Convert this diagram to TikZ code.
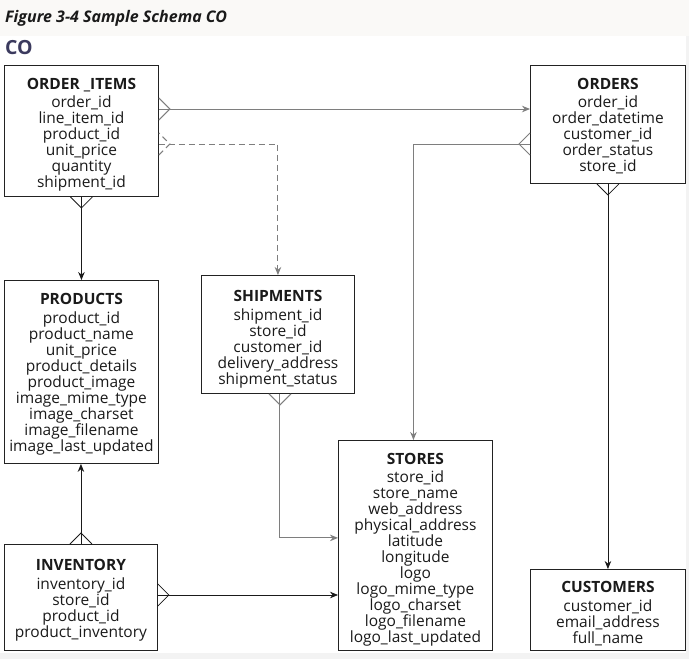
\documentclass[tikz,border=0pt]{standalone}
\usepackage{fontspec}
\setmainfont{Open Sans}
\usetikzlibrary{calc,arrows.meta}
\definecolor{cotitle}{HTML}{3B3A5E}
\definecolor{conngray}{HTML}{7E7E7E}
\definecolor{boxline}{HTML}{222222}
\definecolor{bandbg}{HTML}{FAF9F7}
\definecolor{edgebg}{HTML}{F3F3F3}
\definecolor{txt}{HTML}{1A1A1A}
\newcommand{\crowfoot}[3]{\draw[#1] ($(#2)+(#3+90:11)$) -- ($(#2)+(#3:11)$) -- ($(#2)+(#3-90:11)$);}
\begin{document}
\begin{tikzpicture}[x=1pt,y=-1pt,
  tbox/.style={draw=boxline, line width=0.9pt, anchor=north west, inner sep=0pt, fill=white},
  ttext/.style={anchor=north, align=center, inner sep=0pt, font=\fontsize{15.5}{16}\selectfont, text=txt},
  conn/.style={line width=0.8pt, draw=txt},
  conng/.style={line width=1pt, draw=conngray},
  arr/.style={-{Stealth[length=8pt,width=6.5pt]}},
  dsh/.style={dash pattern=on 6pt off 4pt}
]
\fill[edgebg] (0,0) rectangle (689,659);
\fill[bandbg] (0,0) rectangle (689,36);
\fill[white] (0,36) rectangle (686,653);
\useasboundingbox (0,0) rectangle (689,659);

\node[anchor=west, inner sep=0pt, font=\bfseries\itshape\fontsize{16}{17}\selectfont, text=txt] (fig) at (5,18) {Figure 3-4 Sample Schema CO};
\node[anchor=west, inner sep=0pt, font=\bfseries\fontsize{19.5}{20}\selectfont, text=cotitle] (co) at (5,48) {CO};

% boxes
\node[tbox, minimum width=154pt, minimum height=131pt] (oi) at (4,65) {};
\node[tbox, minimum width=155pt, minimum height=118pt] (ord) at (530,65) {};
\node[tbox, minimum width=154pt, minimum height=183pt] (prod) at (4,280) {};
\node[tbox, minimum width=153pt, minimum height=118pt] (ship) at (201,275) {};
\node[tbox, minimum width=154pt, minimum height=210pt] (st) at (338,440) {};
\node[tbox, minimum width=153pt, minimum height=106pt] (inv) at (4,544) {};
\node[tbox, minimum width=155pt, minimum height=81pt] (cust) at (530,569) {};

% texts
\node[ttext] (oi-t) at ($(oi.north)+(0,13.3)$) {\textbf{ORDER \_ITEMS}\\[2pt]order\_id\\line\_item\_id\\product\_id\\unit\_price\\quantity\\shipment\_id};
\node[ttext] (ord-t) at ($(ord.north)+(0,13.3)$) {\textbf{ORDERS}\\[2pt]order\_id\\order\_datetime\\customer\_id\\order\_status\\store\_id};
\node[ttext] (prod-t) at ($(prod.north)+(0,13.3)$) {\textbf{PRODUCTS}\\[3pt]product\_id\\product\_name\\unit\_price\\product\_details\\product\_image\\image\_mime\_type\\image\_charset\\image\_filename\\image\_last\_updated};
\node[ttext] (ship-t) at ($(ship.north)+(0,15.3)$) {\textbf{SHIPMENTS}\\[3pt]shipment\_id\\store\_id\\customer\_id\\delivery\_address\\shipment\_status};
\node[ttext] (st-t) at ($(st.north)+(0,13.3)$) {\textbf{STORES}\\[2pt]store\_id\\store\_name\\web\_address\\physical\_address\\latitude\\longitude\\logo\\logo\_mime\_type\\logo\_charset\\logo\_filename\\logo\_last\_updated};
\node[ttext] (inv-t) at ($(inv.north)+(0,15.3)$) {\textbf{INVENTORY}\\[3pt]inventory\_id\\store\_id\\product\_id\\product\_inventory};
\node[ttext] (cust-t) at ($(cust.north)+(0,12.3)$) {\textbf{CUSTOMERS}\\[3pt]customer\_id\\email\_address\\full\_name};

% attachment points
\coordinate (oiA) at ($(oi.north east)+(0,44)$);
\coordinate (oiB) at ($(oi.north east)+(0,79)$);
\coordinate (oiBc) at ($(ship.north)+(0,-131)$);
\coordinate (ordB) at ($(ord.north west)+(0,79)$);
\coordinate (ordBc) at ($(st.north)+(-2,-296)$);
\coordinate (stN) at ($(st.north)+(-2,0)$);
\coordinate (shipS) at ($(ship.south)+(2,0)$);
\coordinate (shipSc) at ($(ship.south)+(2,144)$);
\coordinate (invE) at ($(inv.north east)+(0,51)$);
\coordinate (stW) at ($(st.north west)+(0,155)$);

% connectors
\draw[conng, arr] (oiA) -- (oiA -| ord.west);
\crowfoot{conng}{oiA}{0}
\draw[conng, dsh, arr] (oiB) -- (oiBc) -- (ship.north);
\crowfoot{conng, dsh}{oiB}{0}
\draw[conn, arr] (oi.south) -- (oi.south |- prod.north);
\crowfoot{conn}{oi.south}{90}
\draw[conng, arr] (ordB) -- (ordBc) -- (stN);
\crowfoot{conng}{ordB}{180}
\draw[conn, arr] (ord.south) -- (ord.south |- cust.north);
\crowfoot{conn}{ord.south}{90}
\draw[conng, arr] (shipS) -- (shipSc) -- (shipSc -| st.west);
\crowfoot{conng}{shipS}{90}
\draw[conn, arr] (inv.north) -- (inv.north |- prod.south);
\crowfoot{conn}{inv.north}{270}
\draw[conn, arr] (invE) -- (stW);
\crowfoot{conn}{invE}{0}
\end{tikzpicture}
\end{document}
